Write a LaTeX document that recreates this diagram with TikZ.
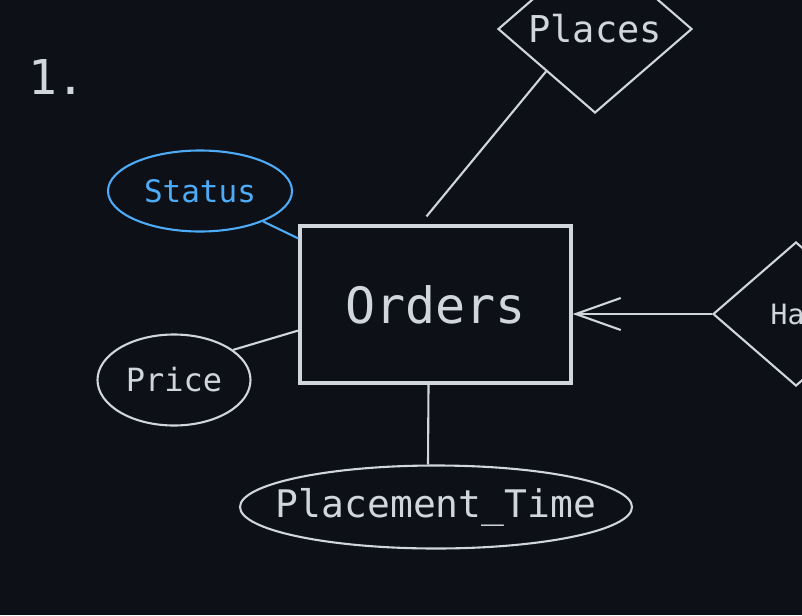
\documentclass[tikz,border=0pt]{standalone}
\usepackage{fontspec}
\setmonofont{DejaVu Sans Mono}
\usepackage{xcolor}
\usetikzlibrary{arrows.meta,positioning,calc,shapes.geometric}
\definecolor{bgdark}{HTML}{0D1017}
\definecolor{inkgray}{HTML}{D0D6DC}
\definecolor{inkblue}{HTML}{4DABF7}

\begin{document}
\begin{tikzpicture}[x=1pt, y=-1pt,
    entity/.style={draw=inkgray, line width=3.2pt, minimum width=271pt, minimum height=157pt,
        text=inkgray, font=\ttfamily\fontsize{50}{60}\selectfont},
    attr/.style={ellipse, draw=inkgray, line width=2.1pt, inner sep=0pt, text=inkgray},
    rel/.style={diamond, draw=inkgray, line width=2.1pt, inner sep=0pt, shape aspect=1.15, text=inkgray},
    link/.style={draw=inkgray, line width=2.1pt}]
    % Canvas
    \useasboundingbox (0,0) rectangle (802,615);
    \fill[bgdark] (0,0) rectangle (802,615);
    \clip (0,0) rectangle (802,615);

    % Step number
    \node[text=inkgray, font=\ttfamily\fontsize{48}{58}\selectfont] (num) at (57,77) {1.};

    % Entity and relationships
    \node[entity] (orders) at (435.5,304.5) {Orders};
    \node[rel, minimum width=194pt, minimum height=168pt, font=\ttfamily\fontsize{37}{44}\selectfont]
        (places) at (595,29) {Places};
    \node[rel, minimum width=166pt, minimum height=144pt, font=\ttfamily\fontsize{28}{34}\selectfont]
        (has) at (796,314) {Has};

    % Attributes
    \node[attr, draw=inkblue, text=inkblue, minimum width=184pt, minimum height=81pt,
        font=\ttfamily\fontsize{31}{38}\selectfont] (status) at (200,191) {Status};
    \node[attr, minimum width=153pt, minimum height=91pt, font=\ttfamily\fontsize{32}{38}\selectfont]
        (price) at (174,380) {Price};
    \node[attr, minimum width=392pt, minimum height=83pt, font=\ttfamily\fontsize{38}{46}\selectfont]
        (ptime) at (436,507) {\makebox[0pt]{Placement\_Time}};

    % Connectors
    \draw[link] ([shift={(-9,-8)}]orders.north) -- (places.south west);
    \draw[link, draw=inkblue] (status) -- (orders);
    \draw[link] (price.27) -- ($(orders.west)+(0,26)$);
    \draw[link] ([xshift=-7pt]orders.south) -- ([xshift=-8pt]ptime.north);
    \draw[link, -{Straight Barb[length=45pt, width=32pt, line width=2.1pt]}]
        (has.west) -- (orders.east |- has.west);
\end{tikzpicture}
\end{document}
